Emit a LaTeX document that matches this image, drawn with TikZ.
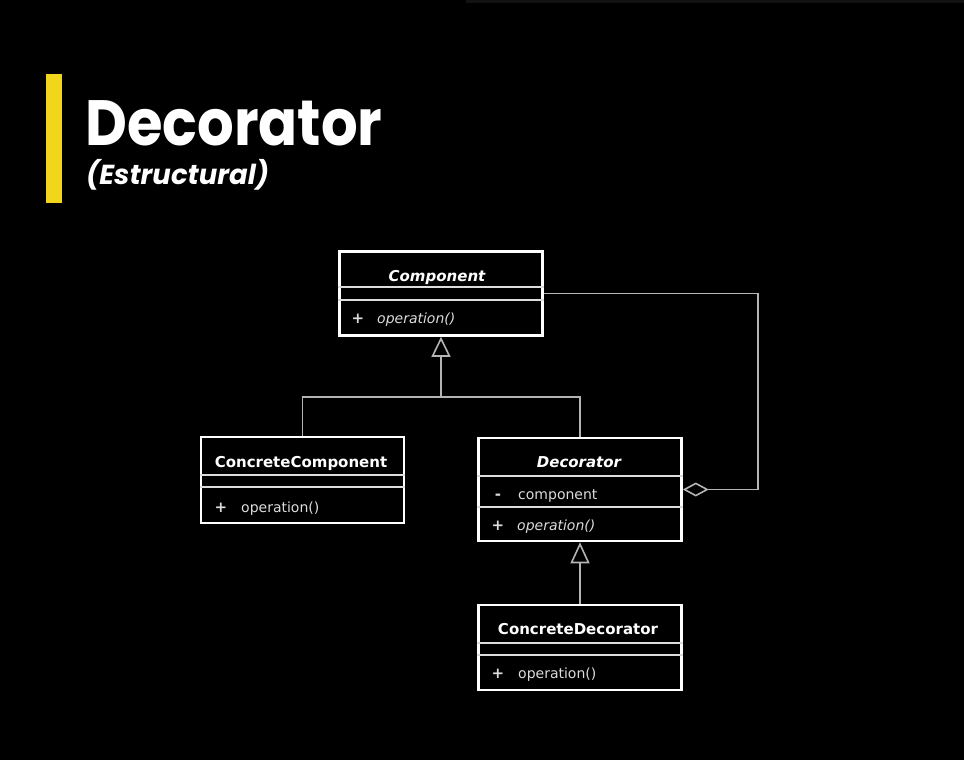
\documentclass[tikz,border=0pt]{standalone}
\usepackage{fontspec}
\usepackage{xcolor}
\usepackage{tikz}
\usetikzlibrary{arrows.meta,positioning,calc}
\newfontfamily\titlefont{Poppins}[FakeStretch=0.9]
\newfontfamily\subtitlefont{Poppins}
\newfontfamily\umlfont{DejaVu Sans}
\definecolor{baryellow}{HTML}{F2D61C}
\definecolor{linkgray}{HTML}{B4B4B4}
\definecolor{membergray}{HTML}{DCDCDC}
\tikzset{
  classbox/.style={draw=white,line width=2.6pt,minimum width=203pt,inner sep=0pt},
  divider/.style={draw=membergray,line width=1.6pt},
  classname/.style={anchor=base,inner sep=0pt,text=white,font=\umlfont\bfseries\fontsize{15}{18}\selectfont},
  member/.style={anchor=base west,inner sep=0pt,text=membergray,font=\umlfont\fontsize{14}{17}\selectfont},
  vis/.style={anchor=base,inner sep=0pt,text=membergray,font=\umlfont\bfseries\fontsize{15}{17}\selectfont},
  conn/.style={draw=linkgray,line width=1.6pt},
}
\begin{document}
\begin{tikzpicture}[x=1pt,y=-1pt,>=Latex]
  % Background
  \fill[black] (0,0) rectangle (964,760);
  \useasboundingbox (0,0) rectangle (964,760);
  \fill[black!93!white] (466,0) rectangle (964,3);
  % Title
  \fill[baryellow] (46,74) rectangle (61.5,203);
  \node[anchor=base west,inner sep=0pt,text=white,font=\titlefont\bfseries\fontsize{64}{70}\selectfont] (title) at (85,145) {Decorator};
  \node[anchor=base west,inner sep=0pt,text=white,font=\subtitlefont\bfseries\itshape\fontsize{27.5}{30}\selectfont] (subtitle) at (86,184) {(Estructural)};
  % Classes
  \node[classbox,minimum height=84pt] (comp) at (441,293.5) {};
  \node[classbox,minimum height=86pt] (cc) at (302.5,480) {};
  \node[classbox,minimum height=103pt] (dec) at (580,489.5) {};
  \node[classbox,minimum height=85pt] (cd) at (580,647.5) {};
  % Compartments
  \draw[divider] ([yshift=-37pt]comp.north west) -- ([yshift=-37pt]comp.north east);
  \draw[divider] ([yshift=-50pt]comp.north west) -- ([yshift=-50pt]comp.north east);
  \draw[divider] ([yshift=-39pt]cc.north west) -- ([yshift=-39pt]cc.north east);
  \draw[divider] ([yshift=-51pt]cc.north west) -- ([yshift=-51pt]cc.north east);
  \draw[divider] ([yshift=-39pt]dec.north west) -- ([yshift=-39pt]dec.north east);
  \draw[divider] ([yshift=-70pt]dec.north west) -- ([yshift=-70pt]dec.north east);
  \draw[divider] ([yshift=-39pt]cd.north west) -- ([yshift=-39pt]cd.north east);
  \draw[divider] ([yshift=-51pt]cd.north west) -- ([yshift=-51pt]cd.north east);
  % Class texts
  \node[classname] (compname) at (437,281) {\itshape Component};
  \node[vis] (compvis) at (358,323) {+};
  \node[member] (compop) at (377,323) {\itshape operation()};
  \node[classname] (ccname) at (301,467) {ConcreteComponent};
  \node[vis] (ccvis) at (221,512) {+};
  \node[member] (ccop) at (241,512) {operation()};
  \node[classname] (decname) at (579,467) {\itshape Decorator};
  \node[vis] (decvis) at (498,499) {-};
  \node[member] (decattr) at (518,499) {component};
  \node[vis] (decopvis) at (498,530) {+};
  \node[member] (decop) at (517,530) {\itshape operation()};
  \node[classname] (cdname) at (578,634) {ConcreteDecorator};
  \node[vis] (cdvis) at (498,678) {+};
  \node[member] (cdop) at (518,678) {operation()};
  % Generalizations
  \coordinate (split) at (441,397);
  \draw[conn] (cc.north) |- (split) -| (dec.north);
  \draw[conn,-{Triangle[open,length=20pt,width=19pt]}] (split) -- (comp.south);
  \draw[conn,-{Triangle[open,length=21pt,width=19pt]}] (cd.north) -- (dec.south);
  % Aggregation
  \draw[conn,-{Diamond[open,length=26pt,width=14pt]}] (comp.east) -- ++(214,0) |- (dec.east);
\end{tikzpicture}
\end{document}
